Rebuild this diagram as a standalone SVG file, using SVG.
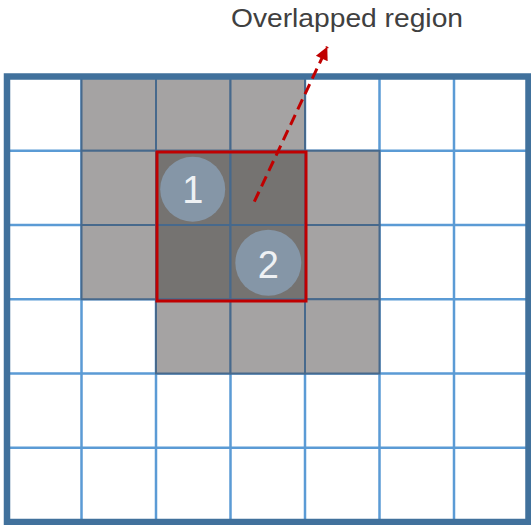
<svg xmlns="http://www.w3.org/2000/svg" width="531" height="525" viewBox="0 0 531 525">
<style>
.gl{stroke:#5b9bd5;stroke-width:2.5;fill:none}
.lg{fill:#a5a3a3;stroke:#47698c;stroke-width:2}
.dg{fill:#757371;stroke:#47698c;stroke-width:2}
.circ{fill:#8596a7}
.num{font-family:"Liberation Sans",Arial,sans-serif;font-size:38px;fill:#eef1f4;text-anchor:middle}
.lbl{font-family:"Liberation Sans",Arial,sans-serif;font-size:26.5px;fill:#404040}
</style>
<defs>
<marker id="ah" viewBox="0 0 10 10" refX="10" refY="5" markerWidth="15" markerHeight="13" markerUnits="userSpaceOnUse" orient="auto">
<path d="M0,0 L10,5 L0,10 z" fill="#c00000"/>
</marker>
</defs>
<rect x="0" y="0" width="531" height="525" fill="#ffffff"/>
<g id="grid">
<path class="gl" d="M81.5,76.5V522M156,76.5V522M230.5,76.5V522M305,76.5V522M379.5,76.5V522M454,76.5V522M7,150.75H528.5M7,225H528.5M7,299.25H528.5M7,373.5H528.5M7,447.75H528.5"/>
</g>
<g id="cells">
<rect class="lg" x="81.5" y="76.5" width="74.5" height="74.25"/>
<rect class="lg" x="156" y="76.5" width="74.5" height="74.25"/>
<rect class="lg" x="230.5" y="76.5" width="74.5" height="74.25"/>
<rect class="lg" x="81.5" y="150.75" width="74.5" height="74.25"/>
<rect class="lg" x="305" y="150.75" width="74.5" height="74.25"/>
<rect class="lg" x="81.5" y="225" width="74.5" height="74.25"/>
<rect class="lg" x="305" y="225" width="74.5" height="74.25"/>
<rect class="lg" x="156" y="299.25" width="74.5" height="74.25"/>
<rect class="lg" x="230.5" y="299.25" width="74.5" height="74.25"/>
<rect class="lg" x="305" y="299.25" width="74.5" height="74.25"/>
<rect class="dg" x="156" y="150.75" width="74.5" height="74.25"/>
<rect class="dg" x="230.5" y="150.75" width="74.5" height="74.25"/>
<rect class="dg" x="156" y="225" width="74.5" height="74.25"/>
<rect class="dg" x="230.5" y="225" width="74.5" height="74.25"/>
</g>
<g id="overlap">
<rect x="157" y="152" width="149" height="149" fill="none" stroke="#c00000" stroke-width="3"/>
</g>
<g id="border">
<rect x="7" y="76.5" width="521.5" height="445.5" fill="none" stroke="#41719c" stroke-width="6.5"/>
</g>
<g id="circle-1">
<circle class="circ" cx="192.7" cy="189.2" r="32.5"/>
<text class="num" x="192.7" y="202.7">1</text>
</g>
<g id="circle-2">
<circle class="circ" cx="268.3" cy="262.8" r="33"/>
<text class="num" x="268.3" y="278.3">2</text>
</g>
<g id="connectors">
<line x1="254.3" y1="201.7" x2="327.3" y2="46.7" stroke="#c00000" stroke-width="3" stroke-dasharray="11,6" marker-end="url(#ah)"/>
</g>
<g id="label">
<text class="lbl" x="231" y="27.3" textLength="232" lengthAdjust="spacingAndGlyphs">Overlapped region</text>
</g>
</svg>
